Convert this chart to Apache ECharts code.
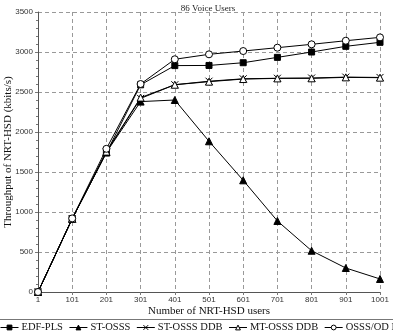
<!DOCTYPE html>
<html><head><meta charset="utf-8">
<script src="https://cdn.jsdelivr.net/npm/echarts@6/dist/echarts.min.js"></script>
<style>html,body{margin:0;padding:0;background:#fff}#c{width:393px;height:333px}</style>
</head><body><div id="c"></div>
<script>
var categories = ['1','101','201','301','401','501','601','701','801','901','1001'];
var edfPls   = [0, 915, 1740, 2590, 2830, 2832, 2866, 2933, 3000, 3071, 3121];
var stOsss   = [0, 915, 1745, 2380, 2400, 1884, 1396, 888, 516, 300, 163];
var stOsssDdb= [0, 915, 1750, 2420, 2591, 2635, 2665, 2672, 2675, 2686, 2682];
var mtOsssDdb= [0, 915, 1755, 2430, 2591, 2629, 2662, 2670, 2671, 2683, 2679];
var osssOd   = [0, 920, 1790, 2600, 2909, 2971, 3012, 3054, 3096, 3141, 3183];
var seriesNames = ['EDF-PLS','ST-OSSS','ST-OSSS DDB','MT-OSSS DDB','OSSS/OD DDB'];
var yTicks = [0, 3500, 500];

var serif = '"Liberation Serif","Times New Roman",serif';
var sans = '"Liberation Sans",Arial,sans-serif';
var chart = echarts.init(document.getElementById('c'), null, {renderer:'canvas'});
var symbols = ['rect','triangle','path://M0,0L10,10M10,0L0,10','triangle','circle'];
var sizes = [6,7,7,7,7];
var fills = ['#000','#000','none','#fff','#fff'];
function mk(i, data){
  return {name:seriesNames[i], type:'line', data:data, symbol:symbols[i], symbolSize:sizes[i],
    lineStyle:{color:'#000', width:1}, itemStyle:{color:fills[i], borderColor:'#000', borderWidth:1},
    emphasis:{disabled:true}, animation:false};
}
var legendData = seriesNames.map(function(n,i){
  return {name:n, itemStyle:{color:fills[i], borderColor:'#000', borderWidth:1}, lineStyle:{color:'#000', width:1}};
});
chart.setOption({
  animation:false,
  title:{text:'86 Voice Users', left:203, textAlign:'center', top:-1,
    textStyle:{fontFamily:serif, fontSize:9, fontWeight:'normal', color:'#222'}},
  grid:{left:38, right:13, top:12, bottom:41, containLabel:false, outerBoundsMode:'none'},
  xAxis:{type:'category', data:categories, boundaryGap:false,
    name:'Number of NRT-HSD users', nameLocation:'middle', nameGap:14, nameMoveOverlap:false,
    nameTextStyle:{fontFamily:serif, fontSize:11, color:'#111'},
    axisLine:{lineStyle:{color:'#555', width:1}},
    axisTick:{show:true, alignWithLabel:true, length:3, lineStyle:{color:'#777'}},
    axisLabel:{fontFamily:sans, fontSize:8, color:'#333', margin:4},
    splitLine:{show:true, lineStyle:{color:'#999', type:[4,3], width:1}}},
  yAxis:{type:'value', min:yTicks[0], max:yTicks[1], interval:yTicks[2],
    name:'Throughput of NRT-HSD (kbits/s)', nameLocation:'middle', nameGap:24, nameMoveOverlap:false,
    nameTextStyle:{fontFamily:serif, fontSize:11, color:'#111'},
    axisLine:{show:true, lineStyle:{color:'#555', width:1}},
    axisTick:{show:true, length:3, lineStyle:{color:'#777'}},
    minorTick:{show:true, splitNumber:5, length:2, lineStyle:{color:'#777'}},
    axisLabel:{fontFamily:sans, fontSize:8, color:'#333', margin:5, formatter:function(v){return String(v);}},
    splitLine:{show:true, lineStyle:{color:'#999', type:[4,3], width:1}}},
  legend:{left:0, top:322, padding:0, width:700, itemGap:6, itemWidth:18, itemHeight:6,
    data:legendData, selectedMode:false,
    textStyle:{fontFamily:serif, fontSize:10.5, color:'#111', padding:[0,0,0,-2]}},
  graphic:[{type:'line', shape:{x1:0,y1:319.5,x2:393,y2:319.5}, style:{stroke:'#777', lineWidth:1}}],
  series:[
    mk(0, edfPls), mk(1, stOsss), mk(2, stOsssDdb), mk(3, mtOsssDdb), mk(4, osssOd)
  ]
});
</script></body></html>
